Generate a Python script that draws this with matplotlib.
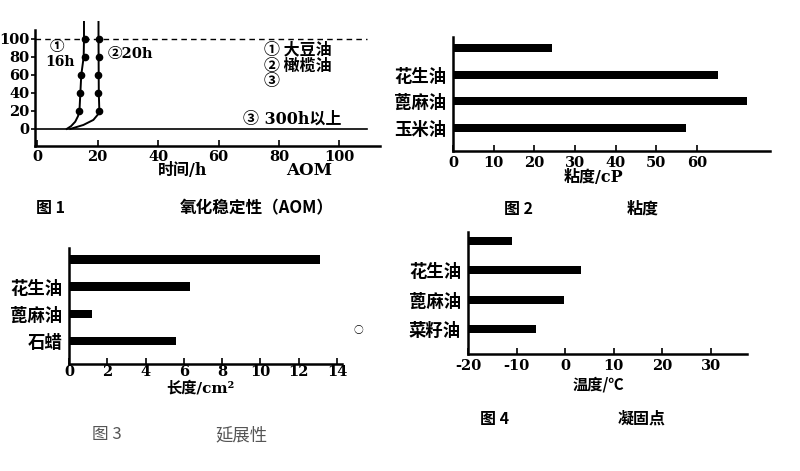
import matplotlib
matplotlib.use("Agg")
import matplotlib.pyplot as plt

# --- data ---
# fig 1: oxidation stability (AOM)
soy_line_x = [9.8, 11.2, 12.6, 13.5, 14.0, 14.3, 14.6, 15.4, 15.5, 15.5]
soy_line_y = [0, 3, 8, 14, 20, 40, 60, 80, 100, 125]
soy_pts_x = [14.0, 14.2, 14.4, 15.8, 15.8]
soy_pts_y = [20, 40, 60, 80, 100]
olive_line_x = [11.0, 15.3, 18.6, 20.6, 20.4, 20.3, 20.3]
olive_line_y = [0, 4.4, 10, 18, 40, 100, 125]
olive_pts_x = [20.4, 20.2, 20.2, 20.4, 20.4]
olive_pts_y = [20, 40, 60, 80, 100]

# fig 2: viscosity
visc_labels = ["", "花生油", "蓖麻油", "玉米油"]
visc_values = [24.3, 65.2, 72.3, 57.4]

# fig 3: ductility
duct_labels = ["", "花生油", "蓖麻油", "石蜡"]
duct_values = [13.1, 6.3, 1.2, 5.6]

# fig 4: pour point
pour_labels = ["", "花生油", "蓖麻油", "菜籽油"]
pour_values = [-11.0, 3.3, -0.2, -6.0]

W, H = 800, 471
NUM = ["DejaVu Serif", "Noto Sans CJK SC"]
CJK = ["Noto Sans CJK SC", "DejaVu Sans"]

plt.rcParams["font.family"] = NUM
plt.rcParams["font.weight"] = "bold"
plt.rcParams["axes.unicode_minus"] = False

fig = plt.figure(figsize=(W / 100, H / 100), dpi=100)


def box(l, t, r, b):
    return [l / W, 1 - b / H, (r - l) / W, (b - t) / H]


def ftext(x, y, s, **kw):
    fig.text(x / W, 1 - y / H, s, ha="center", va="center", **kw)


def style(ax):
    for s in ["top", "right"]:
        ax.spines[s].set_visible(False)
    for s in ["left", "bottom"]:
        ax.spines[s].set_linewidth(1.8)
    ax.tick_params(direction="in", length=4, width=1.2, labelsize=10.5)


# ---------- figure 1 ----------
ax1 = fig.add_axes(box(35, 21, 380, 146))
style(ax1)
ax1.set_xlim(-0.7, 113.4)
ax1.set_ylim(-19, 120)
ax1.spines["left"].set_bounds(-19, 110)
ax1.set_xticks([0, 20, 40, 60, 80, 100])
ax1.set_yticks([0, 20, 40, 60, 80, 100])
ax1.tick_params(axis="y", direction="out", length=3, pad=1)
ax1.tick_params(axis="x", pad=3)
ax1.plot([-0.7, 109], [100, 100], "k--", lw=1.0, dashes=(4, 3))
ax1.plot([-0.7, 109], [0, 0], "k-", lw=1.2)
ax1.plot(soy_line_x, soy_line_y, "k-", lw=1.4)
ax1.plot(olive_line_x, olive_line_y, "k-", lw=1.4)
ax1.plot(soy_pts_x, soy_pts_y, "ko", ms=4.5)
ax1.plot(olive_pts_x, olive_pts_y, "ko", ms=4.5)
ax1.text(6.6, 92, "①", fontsize=10.5, family=CJK, ha="center", va="center")
ax1.text(7.6, 74, "16h", fontsize=10, ha="center", va="center")
ax1.text(23.3, 83, "②20h", fontsize=10.5, ha="left", va="center")
ax1.text(75, 88, "① 大豆油", fontsize=11.5, family=CJK, ha="left", va="center")
ax1.text(75, 70, "② 橄榄油", fontsize=11.5, family=CJK, ha="left", va="center")
ax1.text(75, 53, "③", fontsize=11.5, family=CJK, ha="left", va="center")
ax1.text(68, 11, "③ 300h以上", fontsize=11.5, ha="left", va="center")
ftext(183, 171, "时间/h", fontsize=11.5)
ftext(309, 171, "AOM", fontsize=12)
ftext(50, 208, "图 1", fontsize=11.5, family=CJK)
ftext(257, 208, "氧化稳定性（AOM）", fontsize=12, family=CJK)

# ---------- figure 2 ----------
ax2 = fig.add_axes(box(453, 37, 770, 151))
style(ax2)
pos = [4, 3, 2, 1]
ax2.barh(pos, visc_values, height=0.3, color="black")
ax2.set_xlim(0, 78)
ax2.set_ylim(0.14, 4.41)
ax2.set_xticks([0, 10, 20, 30, 40, 50, 60])
ax2.set_yticks(pos)
ax2.set_yticklabels(visc_labels, family=CJK, fontsize=12.5)
ax2.tick_params(axis="y", length=0, pad=5)
ftext(593, 177, "粘度/cP", fontsize=11.5)
ftext(518, 209, "图 2", fontsize=11.5, family=CJK)
ftext(643, 209, "粘度", fontsize=11.5, family=CJK)

# ---------- figure 3 ----------
ax3 = fig.add_axes(box(69, 248, 342, 364))
style(ax3)
ax3.barh(pos, duct_values, height=0.33, color="black")
ax3.set_xlim(0, 14.26)
ax3.set_ylim(0.15, 4.44)
ax3.set_xticks([0, 2, 4, 6, 8, 10, 12, 14])
ax3.set_yticks(pos)
ax3.set_yticklabels(duct_labels, family=CJK, fontsize=12.5)
ax3.tick_params(axis="y", length=0, pad=5)
ax3.tick_params(axis="x", pad=1)
ftext(200, 388, "长度/cm²", fontsize=11)
ftext(107, 435, "图 3", fontsize=12, family=CJK, color="#555555", weight="normal")
ftext(242, 435, "延展性", fontsize=12.5, family=CJK, color="#555555", weight="normal")
ftext(358, 330, "○", fontsize=7, family=CJK, weight="normal")

# ---------- figure 4 ----------
ax4 = fig.add_axes(box(468, 232, 747, 354))
style(ax4)
xmin4 = -20
ax4.barh(pos, [v - xmin4 for v in pour_values], left=xmin4, height=0.27, color="black")
ax4.set_xlim(xmin4, 37.5)
ax4.set_ylim(0.15, 4.3)
ax4.set_xticks([-20, -10, 0, 10, 20, 30])
ax4.set_yticks(pos)
ax4.set_yticklabels(pour_labels, family=CJK, fontsize=12.5)
ax4.tick_params(axis="y", length=0, pad=5)
ftext(598, 384, "温度/℃", fontsize=11, family=CJK)
ftext(495, 419, "图 4", fontsize=11.5, family=CJK)
ftext(642, 419, "凝固点", fontsize=11.5, family=CJK)

fig.savefig("out.png", dpi=100, facecolor="white")
